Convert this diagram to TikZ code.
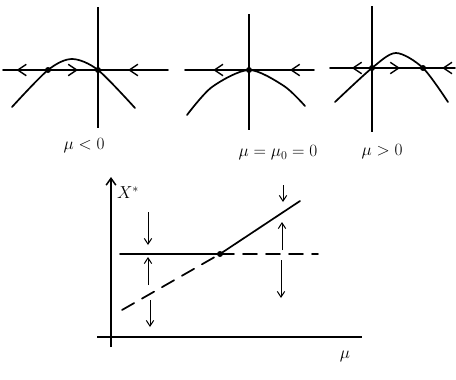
\documentclass[tikz,border=0pt]{standalone}
\usepackage{tikz}
\usetikzlibrary{arrows.meta, decorations.markings}

\begin{document}
\begin{tikzpicture}[
    x=1pt, y=-1pt,
    curve/.style={line width=1.7pt, line cap=round},
    axis/.style={line width=1.5pt},
    midarr/.style={postaction={decorate}, decoration={markings,
                   mark=at position #1 with {\arrow{Straight Barb[length=3mm, width=4mm, line width=1.4pt]}}}},
    flow/.style={-{Straight Barb[length=2mm, width=2.6mm]}, line width=1pt},
    fixpt/.style={circle, fill=black, inner sep=0pt, minimum size=6pt},
    lbl/.style={font=\LARGE},
]
\useasboundingbox (0,0) rectangle (456,380);

% mu < 0
\coordinate (a1L) at (3,70);
\coordinate (a1R) at (168,70);
\node[fixpt] (p1a) at (48,70) {};
\node[fixpt] (p1b) at (98,70) {};
\draw[axis] (98,7) -- (98,128);
\draw[curve] plot[smooth] coordinates {(12,107) (48,70) (72,59) (98,70) (135,108)};
\draw[curve, midarr=0.7] (p1a.center) -- (a1L);
\draw[curve, midarr=0.6] (p1a.center) -- (p1b.center);
\draw[curve, midarr=0.57] (a1R) -- (p1b.center);
\node[lbl] (l1) at (84,146) {$\mu<0$};

% mu = mu_0 = 0
\coordinate (a2L) at (185,70);
\coordinate (a2R) at (314,70);
\node[fixpt] (p2) at (249,70) {};
\draw[axis] (249,14) -- (249,130);
\draw[curve] plot[smooth] coordinates {(187,115) (212,87) (249,70) (284,86) (305,106)};
\draw[curve, midarr=0.56] (p2.center) -- (a2L);
\draw[curve, midarr=0.37] (a2R) -- (p2.center);
\node[lbl] (l2) at (278,153) {$\mu=\mu_0=0$};

% mu > 0
\coordinate (a3L) at (330,68);
\coordinate (a3R) at (455,68);
\node[fixpt] (p3a) at (372,68) {};
\node[fixpt] (p3b) at (423,68) {};
\draw[axis] (372,6) -- (372,132);
\draw[curve] plot[smooth] coordinates {(335,102) (372,68) (396,53) (423,68) (448,102)};
\draw[curve, midarr=0.48] (p3a.center) -- (a3L);
\draw[curve, midarr=0.55] (p3a.center) -- (p3b.center);
\draw[curve, midarr=0.4] (a3R) -- (p3b.center);
\node[lbl] (l3) at (382,152) {$\mu>0$};

% bifurcation diagram
\coordinate (o) at (111,337);
\draw[axis, -{Straight Barb[length=2.4mm, width=3.4mm]}] (111,347) -- (111,177);
\draw[axis] (97,337) -- (362,337);
\node[lbl] (xs) at (128,193) {$X^*$};
\node[lbl] (mu) at (345,356) {$\mu$};
\node[fixpt] (bp) at (220,254) {};
\draw[curve] (120,254) -- (bp.center);
\draw[curve, dash pattern=on 14pt off 9pt] (bp.center) -- (318,254);
\draw[curve, dash pattern=on 14pt off 9pt] (122,310) -- (bp.center);
\draw[curve] (bp.center) -- (300,201);
% stability arrows
\draw[flow] (148,212) -- (148,245);
\draw[flow] (148,285) -- (148,257);
\draw[flow] (150,300) -- (150,327);
\draw[flow] (283,185) -- (283,202);
\draw[flow] (282,250) -- (282,222);
\draw[flow] (281,260) -- (281,298);
\end{tikzpicture}
\end{document}
